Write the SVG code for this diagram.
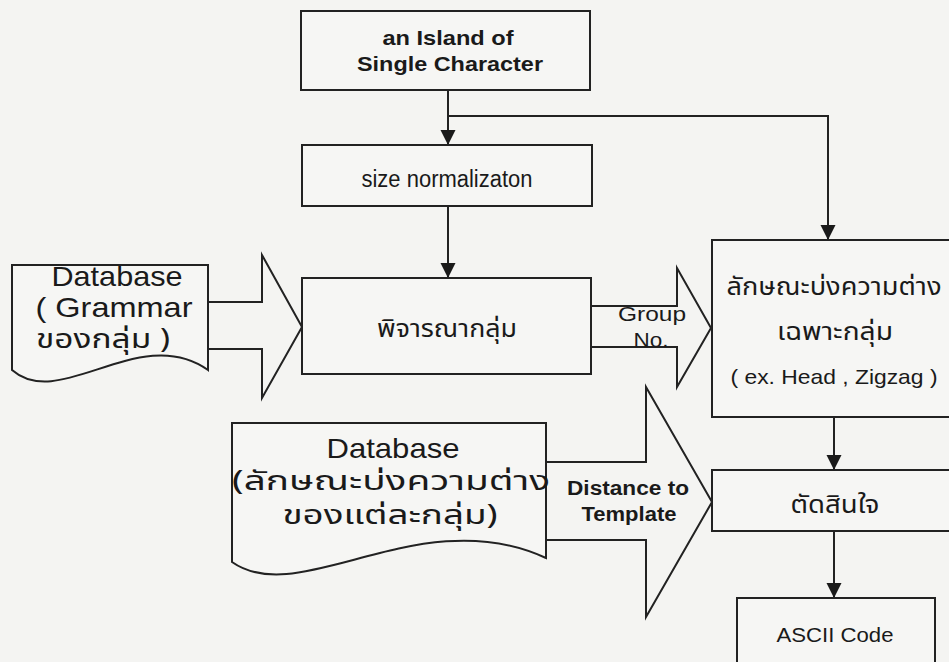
<svg xmlns="http://www.w3.org/2000/svg" width="949" height="662" viewBox="0 0 949 662">
<style>
.bg{fill:#f4f4f2}
.box{fill:#f6f6f4;stroke:#222;stroke-width:2}
.ln{fill:none;stroke:#222;stroke-width:2}
.blk{fill:none;stroke:#222;stroke-width:2;stroke-linejoin:miter}
text{fill:#1a1a1a;font-family:"Liberation Sans",Arial,"Noto Sans",sans-serif;text-anchor:middle}
.b{font-weight:bold}
.th{font-family:"Noto Sans Thai","Noto Sans Thai Looped","Loma","Garuda","Noto Sans","DejaVu Sans",sans-serif}
</style>
<defs>
<marker id="ah" markerUnits="userSpaceOnUse" markerWidth="16" markerHeight="16" refX="15" refY="8" orient="auto">
<path d="M0,0.5 L15,8 L0,15.5 z" fill="#1a1a1a"/>
</marker>
</defs>
<rect class="bg" x="0" y="0" width="949" height="662"/>

<g id="connectors">
<path class="ln" d="M448,90 L448,145" marker-end="url(#ah)"/>
<path class="ln" d="M448,116 L828,116 L828,240" marker-end="url(#ah)"/>
<path class="ln" d="M448,206 L448,278" marker-end="url(#ah)"/>
<path class="ln" d="M834,417 L834,470" marker-end="url(#ah)"/>
<path class="ln" d="M834,531 L834,598" marker-end="url(#ah)"/>
<polyline class="blk" points="208,302 262,302 262,255 302,327 262,398 262,349 208,349"/>
<polyline class="blk" points="591,306 677,306 677,268 711,328 677,387 677,347 591,347"/>
<polyline class="blk" points="546,462 646,462 646,387 712,502 646,617 646,540 546,540"/>
<text x="652" y="321" font-size="20" textLength="68" lengthAdjust="spacingAndGlyphs">Group</text>
<text x="651" y="347" font-size="20" textLength="35" lengthAdjust="spacingAndGlyphs">No.</text>
<text class="b" x="628" y="495" font-size="20" textLength="122" lengthAdjust="spacingAndGlyphs">Distance to</text>
<text class="b" x="629" y="521" font-size="20" textLength="95" lengthAdjust="spacingAndGlyphs">Template</text>
</g>

<g id="island">
<rect class="box" x="301" y="11" width="289" height="79"/>
<text class="b" x="448" y="45" font-size="21" textLength="131" lengthAdjust="spacingAndGlyphs">an Island of</text>
<text class="b" x="450" y="71" font-size="21" textLength="186" lengthAdjust="spacingAndGlyphs">Single Character</text>
</g>

<g id="normalization">
<rect class="box" x="302" y="145" width="290" height="61"/>
<text x="447" y="187" font-size="23" textLength="171" lengthAdjust="spacingAndGlyphs">size normalizaton</text>
</g>

<g id="group-classify">
<rect class="box" x="302" y="278" width="289" height="96"/>
<text class="th" x="447" y="337" font-size="25" textLength="140" lengthAdjust="spacingAndGlyphs">พิจารณากลุ่ม</text>
</g>

<g id="db-grammar">
<path class="box" d="M12,265 L208,265 L208,370 C140,322 60,412 12,370 Z"/>
<text x="117" y="286" font-size="28" textLength="131" lengthAdjust="spacingAndGlyphs">Database</text>
<text x="114" y="317" font-size="28" textLength="157" lengthAdjust="spacingAndGlyphs">( Grammar</text>
<text class="th" x="103" y="348" font-size="27" textLength="134" lengthAdjust="spacingAndGlyphs">ของกลุ่ม )</text>
</g>

<g id="group-features">
<rect class="box" x="712" y="240" width="260" height="177"/>
<text class="th" x="834" y="295" font-size="25" textLength="215" lengthAdjust="spacingAndGlyphs">ลักษณะบ่งความต่าง</text>
<text class="th" x="835" y="340" font-size="25" textLength="116" lengthAdjust="spacingAndGlyphs">เฉพาะกลุ่ม</text>
<text x="834" y="384" font-size="21" textLength="207" lengthAdjust="spacingAndGlyphs">( ex. Head , Zigzag )</text>
</g>

<g id="db-features">
<path class="box" d="M232,423 L546,423 L546,558 C420,500 300,610 232,562 Z"/>
<text x="393" y="458" font-size="28" textLength="133" lengthAdjust="spacingAndGlyphs">Database</text>
<text class="th" x="391" y="490" font-size="27" textLength="318" lengthAdjust="spacingAndGlyphs">(ลักษณะบ่งความต่าง</text>
<text class="th" x="390" y="524" font-size="27" textLength="215" lengthAdjust="spacingAndGlyphs">ของแต่ละกลุ่ม)</text>
</g>

<g id="decide">
<rect class="box" x="712" y="470" width="260" height="61"/>
<text class="th" x="835" y="513" font-size="25" textLength="89" lengthAdjust="spacingAndGlyphs">ตัดสินใจ</text>
</g>

<g id="ascii">
<rect class="box" x="737" y="598" width="198" height="80"/>
<text x="835" y="642" font-size="21" textLength="117" lengthAdjust="spacingAndGlyphs">ASCII Code</text>
</g>
</svg>
